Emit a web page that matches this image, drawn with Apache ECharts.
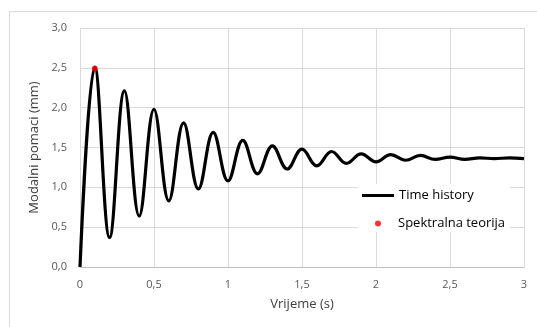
<!DOCTYPE html>
<html>
<head>
<meta charset="utf-8">
<script src="https://cdn.jsdelivr.net/npm/echarts@6/dist/echarts.min.js"></script>
<style>
html,body{margin:0;padding:0;background:#fff;}
#c{width:537px;height:327px;}
</style>
</head>
<body>
<div id="c"></div>
<script>
// Time (s) of the read extrema of the response
const timeS = [0, 0.1, 0.2, 0.3, 0.4, 0.5, 0.6, 0.7, 0.8, 0.9, 1.0, 1.1, 1.2, 1.3, 1.4, 1.5,
  1.6, 1.7, 1.8, 1.9, 2.0, 2.1, 2.2, 2.3, 2.4, 2.5, 2.6, 2.7, 2.8, 2.9, 3.0];
// Modal displacement (mm) at those times
const dispMm = [0, 2.51, 0.37, 2.21, 0.64, 1.98, 0.83, 1.81, 0.98, 1.69, 1.08, 1.59, 1.17, 1.52, 1.23, 1.48,
  1.27, 1.45, 1.30, 1.42, 1.32, 1.41, 1.34, 1.40, 1.35, 1.38, 1.35, 1.37, 1.36, 1.37, 1.36];
// Spectral theory point
const spectralT = [0.1];
const spectralVal = [2.49];

const xTicks = ['0','0,5','1','1,5','2','2,5','3'];
const yTicks = ['0,0','0,5','1,0','1,5','2,0','2,5','3,0'];

const lineData = timeS.map((t, i) => [t, dispMm[i]]);
const dotData = spectralT.map((t, i) => [t, spectralVal[i]]);

const font = '"Open Sans", "Noto Sans", sans-serif';
const chart = echarts.init(document.getElementById('c'), null, {renderer: 'canvas'});
chart.setOption({
  animation: false,
  backgroundColor: '#fff',
  textStyle: {fontFamily: font},
  graphic: [
    {type: 'rect', z: -10, silent: true, shape: {x: 9.5, y: 11.5, width: 540, height: 330},
     style: {fill: '#fff', stroke: '#d9d9d9', lineWidth: 1}},
    {type: 'rect', z: 1, silent: true, shape: {x: 358, y: 184, width: 152, height: 48},
     style: {fill: '#fff'}}
  ],
  grid: {left: 80, right: 13, top: 28, bottom: 60, containLabel: false},
  xAxis: {
    type: 'value', min: 0, max: 3, interval: 0.5,
    name: 'Vrijeme (s)', nameLocation: 'middle', nameGap: 31,
    nameTextStyle: {fontSize: 13, color: '#404040', fontFamily: font},
    axisLine: {show: true, lineStyle: {color: '#bfbfbf', width: 1}},
    axisTick: {show: false},
    axisLabel: {fontSize: 11, color: '#595959', margin: 12, fontFamily: font,
      formatter: v => xTicks[Math.round(v / 0.5)]},
    splitLine: {show: true, lineStyle: {color: '#d9d9d9', width: 1}}
  },
  yAxis: {
    type: 'value', min: 0, max: 3, interval: 0.5,
    name: 'Modalni pomaci (mm)', nameLocation: 'middle', nameGap: 35,
    nameTextStyle: {fontSize: 13, color: '#404040', fontFamily: font},
    axisLine: {show: false},
    axisTick: {show: false},
    axisLabel: {fontSize: 11, color: '#595959', margin: 13, fontFamily: font,
      formatter: v => yTicks[Math.round(v / 0.5)]},
    splitLine: {show: true, lineStyle: {color: '#d9d9d9', width: 1}}
  },
  legend: [
    {data: ['Time history'], left: 362, top: 189, padding: 0, icon: 'rect',
     itemWidth: 32, itemHeight: 3, symbolKeepAspect: false, itemGap: 0,
     textStyle: {fontSize: 13, color: '#000', fontFamily: font}},
    {data: ['Spektralna teorija'], left: 375, top: 217, padding: 0, icon: 'circle',
     itemWidth: 6, itemHeight: 6, itemGap: 0,
     textStyle: {fontSize: 13, color: '#000', fontFamily: font, padding: [0, 0, 0, 12]}}
  ],
  series: [
    {name: 'Time history', type: 'line', data: lineData, smooth: 0.4, showSymbol: false,
     lineStyle: {color: '#000', width: 3.2}, itemStyle: {color: '#000'}, z: 2},
    {name: 'Spektralna teorija', type: 'scatter', data: dotData, symbol: 'circle', symbolSize: 6,
     itemStyle: {color: '#ff0000'}, z: 3}
  ]
});
</script>
</body>
</html>
